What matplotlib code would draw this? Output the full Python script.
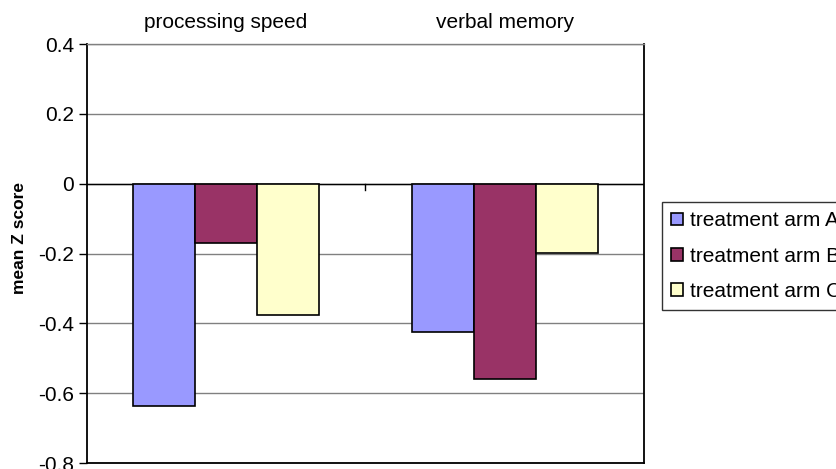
import numpy as np
import matplotlib.pyplot as plt

plt.rcParams['font.family'] = ['Liberation Sans', 'DejaVu Sans']

categories = ['processing speed', 'verbal memory']
series = ['treatment arm A', 'treatment arm B', 'treatment arm C']
arm_a = [-0.638, -0.426]
arm_b = [-0.170, -0.559]
arm_c = [-0.375, -0.200]
colors = ['#9999FF', '#993366', '#FFFFCC']

W, H = 836, 469
fig = plt.figure(figsize=(W / 100, H / 100), dpi=100)
ax = fig.add_axes([86.5 / W, 1 - 463 / H, (644 - 86.5) / W, (463 - 44) / H])

x = np.arange(len(categories))
w = 1 / 4.5
for i, (vals, lab, col) in enumerate(zip([arm_a, arm_b, arm_c], series, colors)):
    ax.bar(x + (i - 1) * w, vals, w, color=col, edgecolor='black', linewidth=1.2,
           label=lab, zorder=3)

ax.set_xlim(-0.5, 1.5)
ax.set_ylim(-0.8, 0.4)
ax.set_yticks(np.arange(-0.8, 0.41, 0.2))
ax.set_yticklabels(['-0.8', '-0.6', '-0.4', '-0.2', '0', '0.2', '0.4'])
ax.yaxis.grid(True, color='#808080', linewidth=1.0, zorder=0)
ax.tick_params(axis='y', direction='out', length=6, width=1, labelsize=15, pad=3)
ax.set_xticks([])

# category axis at zero with a divider tick
ax.axhline(0, color='black', linewidth=1.0, zorder=2)
ax.plot([0.5, 0.5], [0, -0.018], color='black', linewidth=1.0, zorder=2)

for s in ['left', 'right', 'bottom']:
    ax.spines[s].set_color('black')
    ax.spines[s].set_linewidth(1.3)
ax.spines['top'].set_color('#808080')
ax.spines['top'].set_linewidth(1.0)

for xi, cat in zip(x, categories):
    xf = fig.transFigure.inverted().transform(ax.transData.transform((xi, 0)))[0]
    fig.text(xf, 1 - 22 / H, cat, ha='center', va='center', fontsize=15)

fig.text(20 / W, 1 - 238 / H, 'mean Z score', rotation=90, ha='center',
         va='center', fontsize=12.5, fontweight='bold')

# legend runs off the right edge, as in the original
fig.legend(loc='upper left', bbox_to_anchor=(662 / W, 1 - 202 / H),
           fontsize=15, frameon=True, fancybox=False, edgecolor='black',
           handlelength=0.58, handleheight=0.58, handletextpad=0.3,
           labelspacing=0.78, borderpad=0.45, borderaxespad=0)

fig.savefig('out.png', dpi=100)
